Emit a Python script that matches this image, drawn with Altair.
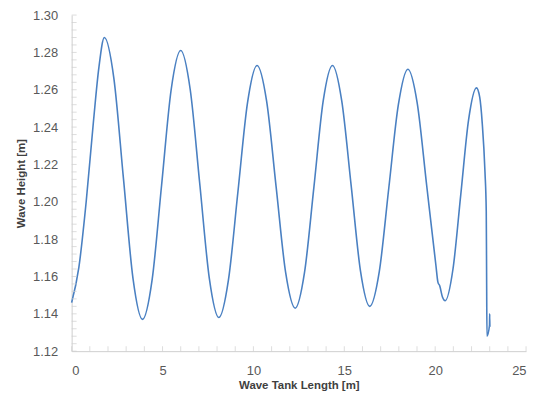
import altair as alt
import pandas as pd

# Wave tank length [m]
x_vals = [0.0, 0.4, 0.8, 1.2, 1.5, 1.8,
          2.325, 2.85, 3.375, 3.9,
          4.425, 4.95, 5.475, 6.0,
          6.525, 7.05, 7.575, 8.1,
          8.625, 9.15, 9.675, 10.2,
          10.725, 11.25, 11.775, 12.3,
          12.81, 13.33, 13.84, 14.35,
          14.86, 15.38, 15.89, 16.4,
          16.925, 17.45, 17.975, 18.5,
          19.01, 19.53, 20.04, 20.15, 20.25, 20.4, 20.55,
          20.98, 21.41, 21.84, 22.27,
          22.45, 22.59, 22.74, 22.81, 22.83, 22.85, 22.99, 23.0, 23.01]
# Wave height [m]
y_vals = [1.146, 1.165, 1.200, 1.243, 1.272, 1.288,
          1.266, 1.2125, 1.159, 1.137,
          1.158, 1.209, 1.260, 1.281,
          1.260, 1.2095, 1.159, 1.138,
          1.158, 1.2055, 1.253, 1.273,
          1.254, 1.208, 1.162, 1.143,
          1.162, 1.208, 1.254, 1.273,
          1.254, 1.2085, 1.163, 1.144,
          1.1626, 1.2075, 1.252, 1.271,
          1.253, 1.209, 1.166, 1.157, 1.155, 1.149, 1.147,
          1.164, 1.204, 1.244, 1.261,
          1.256, 1.242, 1.216, 1.195, 1.160, 1.128, 1.134, 1.140, 1.133]

x_major = [0, 5, 10, 15, 20, 25]
x_minor = [i for i in range(0, 26)]
y_major = [1.12, 1.14, 1.16, 1.18, 1.20, 1.22, 1.24, 1.26, 1.28, 1.30]
y_minor = [round(1.12 + 0.004 * i, 3) for i in range(0, 46)]

W, H = 457, 338
FONT = "Liberation Sans"
LINE = "#4a80c2"
AXIS = "#cfcfcf"

df = pd.DataFrame({"x": x_vals, "y": y_vals})

xscale = alt.Scale(domain=[0, 25], nice=False)
yscale = alt.Scale(domain=[1.12, 1.30], nice=False, zero=False)

xaxis = alt.Axis(values=x_major, title="Wave Tank Length [m]",
                 grid=False, ticks=False, domainColor=AXIS,
                 labelOverlap=False,
                 labelPadding=13, labelFontSize=13, labelColor="#595959",
                 labelFont=FONT, titleFont=FONT, titleFontSize=11.5,
                 titleFontWeight="bold", titleColor="#404040",
                 titlePadding=3)
yaxis = alt.Axis(values=y_major, format=".2f", title="Wave Height [m]",
                 grid=False, ticks=False, domainColor=AXIS,
                 labelOverlap=False,
                 labelPadding=14, labelFontSize=13, labelColor="#595959",
                 labelFont=FONT, titleFont=FONT, titleFontSize=11.5,
                 titleFontWeight="bold", titleColor="#404040",
                 titlePadding=6)

line = alt.Chart(df).mark_line(
    color=LINE, strokeWidth=1.6, interpolate="monotone"
).encode(
    x=alt.X("x:Q", scale=xscale, axis=xaxis),
    y=alt.Y("y:Q", scale=yscale, axis=yaxis),
)

xt = alt.Chart(pd.DataFrame({"x": x_minor})).mark_tick(
    orient="vertical", color=AXIS, thickness=1, size=5
).encode(x=alt.X("x:Q", scale=xscale, axis=xaxis), y=alt.value(H - 2.5))

yt = alt.Chart(pd.DataFrame({"y": y_minor})).mark_tick(
    orient="horizontal", color=AXIS, thickness=1, size=5
).encode(y=alt.Y("y:Q", scale=yscale, axis=yaxis), x=alt.value(2.5))

chart = alt.layer(line, xt, yt).properties(
    width=W, height=H,
    background="white",
    autosize=alt.AutoSizeParams(type="none"),
    padding={"left": 64, "top": 6, "right": 10, "bottom": 45},
).configure_view(strokeWidth=0)

chart.save("out.html", embed_options={"renderer": "svg", "actions": False})
